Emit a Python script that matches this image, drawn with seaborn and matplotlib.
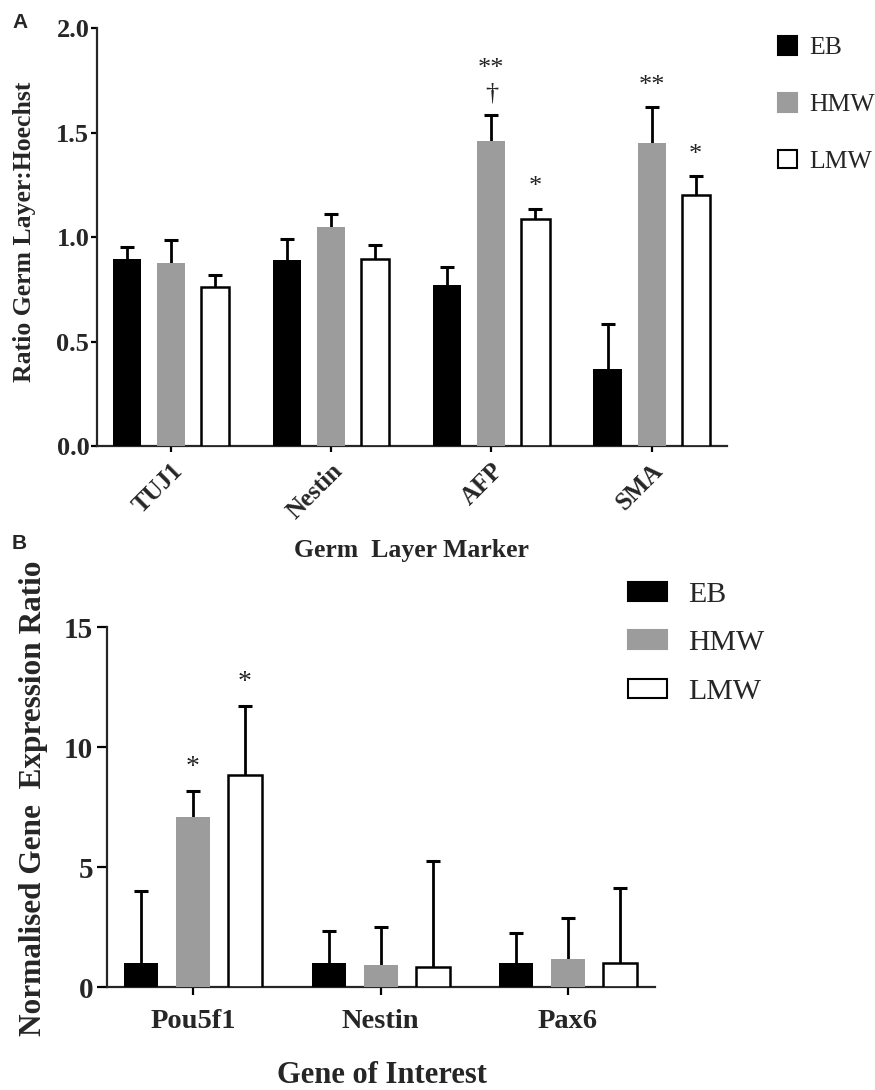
import matplotlib
matplotlib.use("Agg")
import matplotlib.pyplot as plt
from matplotlib.patches import Patch
import seaborn as sns
import pandas as pd
import numpy as np

# ---------------- data ----------------
groups = ["EB", "HMW", "LMW"]

markers_A = ["TUJ1", "Nestin", "AFP", "SMA"]
eb_A = [0.895, 0.89, 0.77, 0.37]
hmw_A = [0.875, 1.05, 1.46, 1.45]
lmw_A = [0.76, 0.895, 1.085, 1.20]
eb_A_err = [0.055, 0.10, 0.085, 0.215]
hmw_A_err = [0.11, 0.06, 0.125, 0.17]
lmw_A_err = [0.06, 0.065, 0.05, 0.09]
sig_A = {("AFP", "HMW"): ["†", "**"], ("AFP", "LMW"): ["*"],
         ("SMA", "HMW"): ["**"], ("SMA", "LMW"): ["*"]}

genes_B = ["Pou5f1", "Nestin", "Pax6"]
eb_B = [1.0, 1.0, 1.0]
hmw_B = [7.1, 0.92, 1.17]
lmw_B = [8.85, 0.85, 1.02]
eb_B_err = [3.0, 1.33, 1.27]
hmw_B_err = [1.07, 1.6, 1.7]
lmw_B_err = [2.85, 4.4, 3.1]
sig_B = {("Pou5f1", "HMW"): ["*"], ("Pou5f1", "LMW"): ["*"]}

# ---------------- style ----------------
sns.set_theme(style="ticks")
SERIF = ["Liberation Serif", "DejaVu Serif"]
plt.rcParams["font.family"] = SERIF
plt.rcParams["axes.linewidth"] = 1.6

colors = {"EB": "#000000", "HMW": "#9c9c9c", "LMW": "#ffffff"}
edges = {"EB": "#000000", "HMW": "#9c9c9c", "LMW": "#000000"}


def make_df(cats, a, b, c, ea, eb, ec):
    rows = []
    for i, cat in enumerate(cats):
        for g, v, e in zip(groups, (a[i], b[i], c[i]), (ea[i], eb[i], ec[i])):
            rows.append({"cat": cat, "group": g, "val": v, "err": e})
    return pd.DataFrame(rows)


dfA = make_df(markers_A, eb_A, hmw_A, lmw_A, eb_A_err, hmw_A_err, lmw_A_err)
dfB = make_df(genes_B, eb_B, hmw_B, lmw_B, eb_B_err, hmw_B_err, lmw_B_err)

fig = plt.figure(figsize=(8.75, 10.9), dpi=100)
axA = fig.add_axes([97 / 875, 1 - 446 / 1090, 630 / 875, 418 / 1090])
axB = fig.add_axes([107 / 875, 1 - 987 / 1090, 548 / 875, 360 / 1090])


def draw(ax, df, cats, width, gap, capsize, sig, sig_off, sig_step, sig_fs):
    sns.barplot(data=df, x="cat", y="val", hue="group", order=cats,
                hue_order=groups, palette=colors, width=width, gap=gap,
                errorbar=None, legend=False, ax=ax, saturation=1)
    for cont, g in zip(ax.containers, groups):
        sub = df[df["group"] == g].set_index("cat").loc[cats]
        xs, ys = [], []
        for bar in cont:
            bar.set_edgecolor(edges[g])
            bar.set_linewidth(1.8 if g == "LMW" else 0)
            bar.set_zorder(3)
            xs.append(bar.get_x() + bar.get_width() / 2)
            ys.append(bar.get_height())
        xs = np.array(xs)
        ys = np.array(ys)
        errs = sub["err"].values
        tops = ys + errs
        ax.vlines(xs, ys, tops, colors="black", linewidth=2, zorder=2)
        ax.plot(xs, tops, ls="none", marker="_", ms=capsize * 2, mew=2.2,
                color="black", zorder=2)
        for x, t, cat in zip(xs, tops, cats):
            if (cat, g) in sig:
                for k, s in enumerate(sig[(cat, g)]):
                    ax.text(x, t + sig_off + k * sig_step, s,
                            ha="center", va="baseline", fontsize=sig_fs,
                            color="#222222")
    sns.despine(ax=ax)


draw(axA, dfA, markers_A, 0.825, 0.36, 4.7, sig_A, 0.075, 0.115, 19)
axA.tick_params(axis="y", width=1.6, length=4, color="black", pad=1.5)
axA.tick_params(axis="x", width=1.6, length=4, color="black", pad=5.5)
axA.set_xlim(-0.46, 3.47)
axA.set_ylim(0, 2.0)
axA.set_yticks([0.0, 0.5, 1.0, 1.5, 2.0])
axA.set_yticklabels(["0.0", "0.5", "1.0", "1.5", "2.0"], fontsize=19,
                    fontweight="bold")
axA.set_xticks(range(len(markers_A)))
axA.set_xticklabels(markers_A, rotation=45, ha="right",
                    rotation_mode="anchor", fontsize=18, fontweight="bold")
axA.set_xlabel("Germ  Layer Marker", fontsize=18.5, fontweight="bold")
axA.xaxis.set_label_coords((411 - 97) / 630, -(539 - 446) / 418)
axA.set_ylabel("Ratio Germ Layer:Hoechst", fontsize=18.5, fontweight="bold")
axA.yaxis.set_label_coords(-(97 - 36) / 630, 0.512)

draw(axB, dfB, genes_B, 0.832, 0.346, 5, sig_B, 0.7, 1.0, 20)
axB.tick_params(axis="y", width=1.6, length=7, color="black", pad=3)
axB.tick_params(axis="x", width=1.6, length=6, color="black", pad=10)
axB.set_xlim(-0.459, 2.464)
axB.set_ylim(0, 15)
axB.set_yticks([0, 5, 10, 15])
axB.set_yticklabels(["0", "5", "10", "15"], fontsize=21, fontweight="bold")
axB.set_xticks(range(len(genes_B)))
axB.set_xticklabels(genes_B, fontsize=20.5, fontweight="bold")
axB.set_xlabel("Gene of Interest", fontsize=22, fontweight="bold")
axB.xaxis.set_label_coords((382 - 107) / 548, -(1061 - 987) / 360)
axB.set_ylabel("Normalised Gene  Expression Ratio", fontsize=22.5,
               fontweight="bold")
axB.yaxis.set_label_coords(-(107 - 48) / 548, 0.525)

# legends
handles = [Patch(facecolor=colors[g], edgecolor="black" if g != "HMW" else colors[g],
                 linewidth=1.5) for g in groups]
fig.legend(handles, groups, loc="upper left",
           bbox_to_anchor=(778 / 875, 1 - 36 / 1090), frameon=False,
           fontsize=18.5, handlelength=0.75, handleheight=0.75,
           labelspacing=1.3, handletextpad=0.45, borderpad=0, borderaxespad=0)
fig.legend(handles, groups, loc="upper left",
           bbox_to_anchor=(628 / 875, 1 - 582 / 1090), frameon=False,
           fontsize=21.5, handlelength=1.3, handleheight=0.6,
           labelspacing=0.75, handletextpad=0.7, borderpad=0, borderaxespad=0)

fig.text(12 / 875, 1 - 22 / 1090, "A", fontsize=15, fontweight="bold",
         family=["Liberation Sans", "DejaVu Sans"], va="center")
fig.text(12 / 875, 1 - 543 / 1090, "B", fontsize=15, fontweight="bold",
         family=["Liberation Sans", "DejaVu Sans"], va="center")

fig.savefig("out.png", dpi=100, facecolor="white")
